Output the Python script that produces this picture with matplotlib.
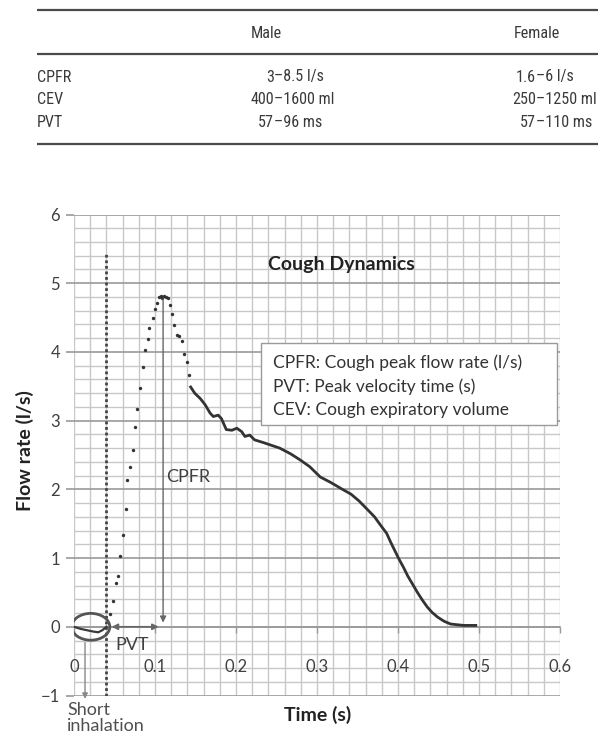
import matplotlib
matplotlib.use("Agg")
import matplotlib.pyplot as plt
from matplotlib import font_manager as fm
from matplotlib.patches import Ellipse, FancyArrowPatch, Rectangle
import numpy as np

# ---------------- data ----------------
row_labels = ["CPFR", "CEV", "PVT"]
col_headers = ["Male", "Female"]
male_vals = ["3–8.5 l/s", "400–1600 ml", "57–96 ms"]
female_vals = ["1.6–6 l/s", "250–1250 ml", "57–110 ms"]

# short inhalation (line)
t_in = [0.0, 0.008, 0.016, 0.024, 0.030, 0.035, 0.040]
f_in = [0.0, -0.03, -0.05, -0.07, -0.08, -0.05, 0.0]

# rising phase (sparse dots)
t_rise = [0.044, 0.048, 0.052, 0.054, 0.057, 0.060, 0.064, 0.066, 0.069, 0.073,
          0.075, 0.078, 0.082, 0.085, 0.088, 0.091, 0.093, 0.097, 0.100, 0.102,
          0.105, 0.107, 0.109, 0.111, 0.113, 0.116, 0.118, 0.121, 0.124, 0.127,
          0.130, 0.133, 0.136, 0.139, 0.142]
f_rise = [0.19, 0.38, 0.64, 0.74, 1.03, 1.33, 1.72, 2.13, 2.32, 2.57,
          2.91, 3.17, 3.48, 3.78, 4.03, 4.19, 4.35, 4.50, 4.62, 4.71,
          4.80, 4.81, 4.79, 4.82, 4.80, 4.78, 4.68, 4.55, 4.39, 4.24,
          4.23, 4.16, 3.97, 3.85, 3.67]

# decay phase (dense samples)
t_tail = [0.144, 0.149, 0.156, 0.162, 0.168, 0.172, 0.178, 0.182, 0.188, 0.195,
          0.201, 0.207, 0.211, 0.217, 0.223, 0.234, 0.244, 0.254, 0.267, 0.279,
          0.291, 0.304, 0.317, 0.330, 0.342, 0.352, 0.362, 0.371, 0.379, 0.386,
          0.391, 0.396, 0.401, 0.407, 0.412, 0.418, 0.424, 0.430, 0.436, 0.442,
          0.449, 0.457, 0.465, 0.473, 0.481, 0.489, 0.496]
f_tail = [3.49, 3.40, 3.32, 3.23, 3.11, 3.06, 3.08, 3.03, 2.87, 2.86,
          2.89, 2.84, 2.77, 2.79, 2.72, 2.68, 2.64, 2.60, 2.52, 2.43,
          2.33, 2.18, 2.10, 2.01, 1.93, 1.83, 1.71, 1.60, 1.47, 1.36,
          1.23, 1.11, 0.99, 0.86, 0.74, 0.62, 0.50, 0.39, 0.29, 0.21,
          0.14, 0.08, 0.04, 0.03, 0.02, 0.02, 0.02]

x_ticks = [0, 0.1, 0.2, 0.3, 0.4, 0.5, 0.6]
x_ticklabels = ["0", "0.1", "0.2", "0.3", "0.4", "0.5", "0.6"]
y_ticks = [-1, 0, 1, 2, 3, 4, 5, 6]
y_ticklabels = ["\u22121", "0", "1", "2", "3", "4", "5", "6"]

peak_t, peak_f = 0.110, 4.81
onset_t = 0.040
legend_lines = ["CPFR: Cough peak flow rate (l/s)",
                "PVT: Peak velocity time (s)",
                "CEV: Cough expiratory volume"]

# ---------------- fonts ----------------
def pick_narrow():
    cands = []
    for f in fm.fontManager.ttflist:
        nm = (f.name + " " + f.fname).lower()
        if any(b in nm for b in ("bold", "italic", "oblique", "light", "thin",
                                 "black", "medium", "semi", "extra")):
            continue
        if f.style != "normal":
            continue
        if "narrow" in nm or "condensed" in nm or str(f.stretch) in ("condensed", "75"):
            cands.append(f)
    order = ("liberation", "arial", "roboto", "dejavu", "noto", "open")
    for key in order:
        for f in cands:
            if key in (f.name + f.fname).lower():
                return fm.FontProperties(fname=f.fname), True
    if cands:
        return fm.FontProperties(fname=cands[0].fname), True
    return fm.FontProperties(family=["Roboto", "DejaVu Sans"]), False

NPROP, is_narrow = pick_narrow()

# ---------------- figure ----------------
W, H = 598, 738
fig = plt.figure(figsize=(W / 100, H / 100), dpi=100)
fig.patch.set_facecolor("white")
renderer = fig.canvas.get_renderer()

# fit table font size so that "400–1600 ml" is ~84 px wide (as in the reference)
probe = fig.text(0, 0, "400–1600 ml", fontproperties=NPROP, fontsize=10)
pw = probe.get_window_extent(renderer).width
probe.remove()
NSIZE = 10 * 84.0 / pw
if not is_narrow:
    NSIZE = max(NSIZE, 10.5)
NPROP.set_size(NSIZE)

CH = ["Lato", "DejaVu Sans"]
tcol = "#3a3a3a"

# ---- table (pixel coordinate overlay) ----
tab = fig.add_axes([0, 0, 1, 1])
tab.set_xlim(0, W)
tab.set_ylim(H, 0)
tab.axis("off")
for yy in (9.5, 53.5, 143.5):
    tab.plot([37, W], [yy, yy], color="#4a4a4a", lw=1.6, solid_capstyle="butt")
tab.text(266, 33, col_headers[0], ha="center", va="center", fontproperties=NPROP, color=tcol)
tab.text(537, 33, col_headers[1], ha="center", va="center", fontproperties=NPROP, color=tcol)
row_y = [77, 99.5, 122.5]
for lab, mv, fv, yy in zip(row_labels, male_vals, female_vals, row_y):
    tab.text(37, yy, lab, ha="left", va="center", fontproperties=NPROP, color=tcol)
    for val, dx in ((mv, 274), (fv, 536)):
        left, right = val.split("–", 1)
        tab.text(dx, yy, left, ha="right", va="center", fontproperties=NPROP, color=tcol)
        tab.text(dx, yy, "–" + right, ha="left", va="center", fontproperties=NPROP,
                 color=tcol, clip_on=False)

# ---- chart ----
L, R, T, B = 74, 560, 214.5, 695.5
ax = fig.add_axes([L / W, 1 - B / H, (R - L) / W, (B - T) / H])
ax.set_xlim(0, 0.6)
ax.set_ylim(-1, 6)

ax.set_xticks(x_ticks)
ax.set_xticks(np.arange(0, 0.6001, 0.02), minor=True)
ax.set_yticks(y_ticks)
ax.set_yticks(np.arange(-1, 6.001, 0.2), minor=True)
ax.set_yticklabels(y_ticklabels, family=CH, fontsize=12, color="#404040")
ax.set_xticklabels([])
ax.grid(which="minor", color="#c8c8c8", lw=1.0)
ax.grid(which="major", axis="x", color="#c8c8c8", lw=1.0)
ax.grid(which="major", axis="y", color="#9a9a9a", lw=1.2)
ax.set_axisbelow(True)
for s in ("left", "right", "top"):
    ax.spines[s].set_visible(False)
ax.spines["bottom"].set_position(("data", 0))
ax.spines["bottom"].set_color("#9a9a9a")
ax.spines["bottom"].set_linewidth(1.2)
ax.tick_params(axis="y", which="major", length=6, color="#9a9a9a", width=1.2, pad=4)
ax.tick_params(axis="x", which="major", length=4, color="#9a9a9a", width=1.0, direction="out")
ax.tick_params(which="minor", length=0)

for xv, xl in zip(x_ticks, x_ticklabels):
    ax.text(xv, -0.58, xl, ha="center", va="center", family=CH, fontsize=12, color="#404040")

# curve
ax.plot(t_in, f_in, color="#3a3a3a", lw=1.6, zorder=4)
ax.scatter(t_rise, f_rise, s=6, color="#333333", zorder=4, linewidths=0)
ax.plot(t_tail, f_tail, color="#333333", lw=2.0, zorder=4)

# dotted onset line
ax.plot([onset_t, onset_t], [-1, 5.44], color="#444444", lw=2.0,
        linestyle=(0, (1, 1)), zorder=3)

# CPFR vertical arrow and PVT horizontal arrow
acol = "#666666"
ax.add_patch(FancyArrowPatch((peak_t, peak_f), (peak_t, 0.02), arrowstyle="-|>",
                             mutation_scale=9, color=acol, lw=1.0, zorder=5))
ax.add_patch(FancyArrowPatch((onset_t + 0.003, 0), (peak_t - 0.002, 0), arrowstyle="<|-|>",
                             mutation_scale=9, color=acol, lw=1.2, zorder=5))
ax.text(peak_t + 0.004, 2.18, "CPFR", ha="left", va="center", family=CH, fontsize=13,
        color="#404040")
ax.text(0.072, -0.27, "PVT", ha="center", va="center", family=CH, fontsize=13,
        color="#404040")

# short inhalation ellipse & arrow
ax.add_patch(Ellipse((0.0207, 0.0), 0.047, 0.39, fill=False, edgecolor="#555555",
                     lw=2.0, zorder=5))
ax.add_patch(FancyArrowPatch((0.0136, -0.19), (0.0136, -1.09), arrowstyle="-|>",
                             mutation_scale=8, color="#888888", lw=1.0, zorder=5,
                             clip_on=False))
fig.text(67 / W, 1 - 718 / H, "Short\ninhalation", ha="left", va="center",
         family=CH, fontsize=13, color="#505050", linespacing=0.95)

# title and legend box
ax.text(0.33, 5.27, "Cough Dynamics", ha="center", va="center", family=CH,
        fontsize=14, fontweight="bold", color="#222222")
ax.add_patch(Rectangle((0.231, 2.94), 0.365, 1.19, facecolor="white",
                       edgecolor="#9a9a9a", lw=1.0, zorder=6))
for i, line in enumerate(legend_lines):
    ax.text(0.246, 3.85 - 0.35 * i, line, ha="left", va="center", family=CH,
            fontsize=12.5, color="#333333", zorder=7)

# axis titles
fig.text(25 / W, 1 - 451 / H, "Flow rate (l/s)", rotation=90, ha="center",
         va="center", family=CH, fontsize=14, fontweight="bold", color="#222222")
fig.text(318 / W, 1 - 715 / H, "Time (s)", ha="center", va="center", family=CH,
         fontsize=14, fontweight="bold", color="#222222")

fig.savefig("out.png", dpi=100, facecolor="white")
